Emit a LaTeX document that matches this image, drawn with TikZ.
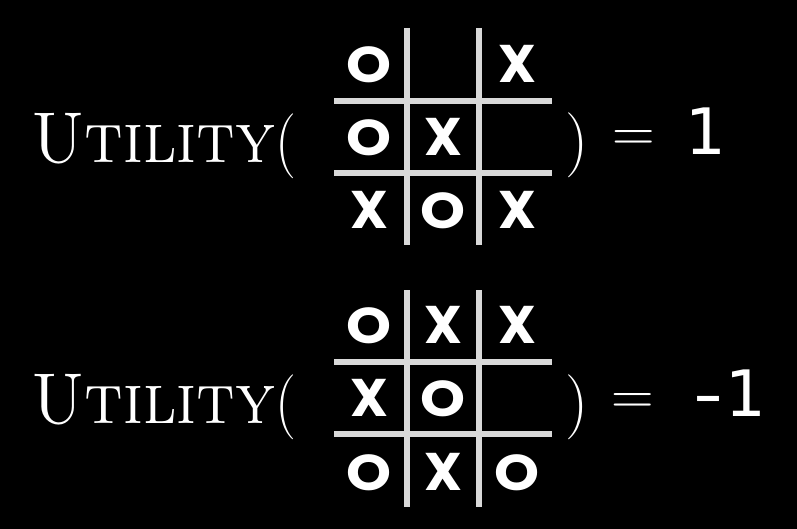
\documentclass[tikz,border=0pt]{standalone}
\usepackage{fontspec}
\newfontfamily\popfont{Poppins}
\newfontfamily\numfont{DejaVu Sans}
\definecolor{gridgray}{HTML}{D9D9D9}
\newcommand\Ochar{\scalebox{1.08}[0.95]{O}}
\newcommand\UtilText{\scalebox{0.91}[1]{\fontsize{72}{80}\selectfont\textsc{Utility}\fontsize{65}{70}\selectfont(}}
\begin{document}
\begin{tikzpicture}[x=1pt,y=-1pt,
  xocell/.style={anchor=base,inner sep=0pt,text=white,font=\popfont\bfseries\fontsize{53}{60}\selectfont},
  gridline/.style={draw=gridgray,line width=6pt},
  serif/.style={anchor=base west,inner sep=0pt,text=white},
  numtext/.style={anchor=base west,inner sep=0pt,text=white,font=\numfont\fontsize{64}{70}\selectfont},
]
\fill[black] (0,0) rectangle (797,529);
% ---------- first row ----------
\node[serif] (util1) at (31,162.5) {\UtilText};
\draw[gridline] (406.7,28) -- (406.7,245);
\draw[gridline] (479.3,28) -- (479.3,245);
\draw[gridline] (334,100.7) -- (552,100.7);
\draw[gridline] (334,172.7) -- (552,172.7);
\node[xocell] (a00) at (369,83) {\Ochar};
\node[xocell] (a02) at (517,83) {X};
\node[xocell] (a10) at (369,156) {\Ochar};
\node[xocell] (a11) at (443,156) {X};
\node[xocell] (a20) at (369,229) {X};
\node[xocell] (a21) at (443,229) {\Ochar};
\node[xocell] (a22) at (517,229) {X};
\node[serif,font=\fontsize{65}{70}\selectfont] (rp1) at (565,162) {)};
\node[serif,font=\fontsize{59}{60}\selectfont] (eq1) at (612,151.5) {=};
\node[numtext,anchor=base] (val1) at (706,155) {1};
% ---------- second row ----------
\node[serif] (util2) at (31,423) {\UtilText};
\draw[gridline] (406.7,290) -- (406.7,506.7);
\draw[gridline] (479.3,290) -- (479.3,506.7);
\draw[gridline] (334,361.7) -- (552,361.7);
\draw[gridline] (334,434.3) -- (552,434.3);
\node[xocell] (b00) at (369,343.5) {\Ochar};
\node[xocell] (b01) at (443,343.5) {X};
\node[xocell] (b02) at (517,343.5) {X};
\node[xocell] (b10) at (369,416.5) {X};
\node[xocell] (b11) at (443,416.5) {\Ochar};
\node[xocell] (b20) at (369,490.5) {\Ochar};
\node[xocell] (b21) at (443,490.5) {X};
\node[xocell] (b22) at (517,490.5) {\Ochar};
\node[serif,font=\fontsize{65}{70}\selectfont] (rp2) at (565,423) {)};
\node[serif,font=\fontsize{59}{60}\selectfont] (eq2) at (611,414) {=};
\node[numtext] (val2) at (693.7,416.7) {\scalebox{1.3}[1]{-}\kern2pt 1};
\end{tikzpicture}
\end{document}
